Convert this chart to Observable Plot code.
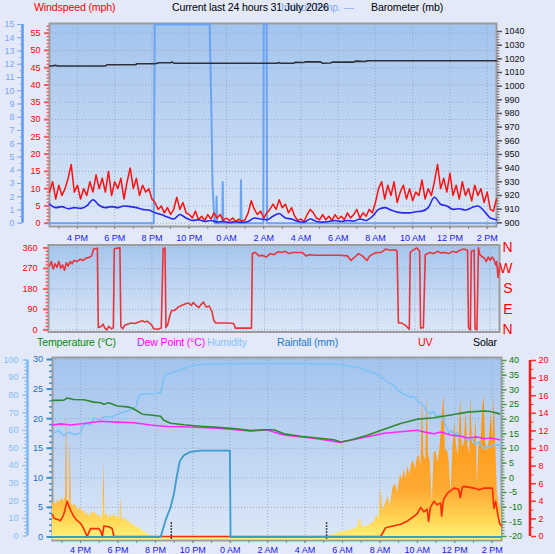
<!DOCTYPE html>
<html><head><meta charset="utf-8">
<script src="https://cdn.jsdelivr.net/npm/d3@7"></script>
<script src="https://cdn.jsdelivr.net/npm/@observablehq/plot@0.6"></script>
<style>
html,body{margin:0;padding:0;background:#E3E9F9;}
#chart{position:relative;width:555px;height:554px;overflow:hidden;background:#E3E9F9;font-family:"Liberation Sans",Arial,sans-serif;}
.lbl{position:absolute;font-size:10.6px;line-height:13px;white-space:nowrap;letter-spacing:-0.15px;}
</style></head><body>
<div id="chart">
<svg width="0" height="0" style="position:absolute"><defs>
<linearGradient id="bgPanel" x1="0" y1="0" x2="0" y2="1"><stop offset="0" stop-color="#A3C4EE"/><stop offset="0.5" stop-color="#BED4F2"/><stop offset="1" stop-color="#DDE8F8"/></linearGradient>
<linearGradient id="bgDir" x1="0" y1="0" x2="0" y2="1"><stop offset="0" stop-color="#A6C6EE"/><stop offset="1" stop-color="#DCE7F7"/></linearGradient>
<linearGradient id="solarGrad" gradientUnits="userSpaceOnUse" x1="0" y1="539" x2="0" y2="400"><stop offset="0" stop-color="#FFF27A"/><stop offset="0.15" stop-color="#FFD553"/><stop offset="0.35" stop-color="#FFAA34"/><stop offset="1" stop-color="#FF9205"/></linearGradient>
</defs></svg>
<div class="lbl" style="left:281px;top:1px;color:#86A8F0">Indoor Temp. ---</div>
<div class="lbl" style="left:34px;top:1px;color:#FF0000">Windspeed (mph)</div>
<div class="lbl" style="left:172px;top:1px;color:#000">Current last 24 hours 31 July 2026</div>
<div class="lbl" style="left:371px;top:1px;color:#000">Barometer (mb)</div>
<div class="lbl" style="left:37px;top:336px;color:#0A8A0A">Temperature (°C)</div>
<div class="lbl" style="left:137px;top:336px;color:#FF00FF">Dew Point (°C)</div>
<div class="lbl" style="left:207px;top:336px;color:#86C2F6">Humidity</div>
<div class="lbl" style="left:277px;top:336px;color:#1E78C8">Rainfall (mm)</div>
<div class="lbl" style="left:418px;top:336px;color:#FF0000">UV</div>
<div class="lbl" style="left:473px;top:336px;color:#000">Solar</div>
</div>
<script>
// ---- time axis ----
const timeDomain = [14.5, 38.5];
const timeTicks = [16, 18, 20, 22, 24, 26, 28, 30, 32, 34, 36, 38];
const timeLabels = ["4 PM","6 PM","8 PM","10 PM","0 AM","2 AM","4 AM","6 AM","8 AM","10 AM","12 PM","2 PM"];
const hourTicks = d3.range(15, 39);

// ---- wind (mph), gust every 10 min from 14:30 ----
const gustStart = 14.5, gustStep = 1 / 6;
const gustV = [9,12,7,11,8,10,13,17,9,11,7,10,8,12,9,14,10,13,9,15,8,12,10,13,7,12,16,10,13,8,11,9,10,7,
  6,4,5,3,4.5,2.5,4,7.5,4,6,3,
  2.5,1.5,3.5,1,2,0.8,2.5,1.2,3,1.5,2.5,0.8,1.5,
  0.7,1.5,0.5,1.2,0.5,1,
  3,6.5,4,2.5,3.5,1.5,3,
  4,5.5,4,6.8,4.5,5.5,3,4.5,
  2,0.8,1.2,0.5,
  2.5,4,3,1.5,
  1,2.5,1,2,0.8,2.5,1.2,2,1,3,1.5,2.5,4,1.5,3,2,4,3,
  6,10,12,7,11,8,12,6,9,11,7,10,6.5,9,8,12.5,7,10,8,12,17,10,13,9,14.5,8,11,7,12,8,10,6.5,11,8,10,6,9,4,3.5,7];
// average wind every 20 min from 14:30
const avgStart = 14.5, avgStep = 1 / 3;
const avgV = [5.5,4.5,4.8,4.2,4.5,4.3,5.0,6.8,5.2,4.5,4.8,4.5,5.0,4.8,4.5,4.0,3.8,3.0,2.5,1.8,
  1.2,2.5,1.5,0.8,1.0,0.5,0.8,0.3,0.5,0.2,0.4,0.2,0.5,1.5,1.2,1.0,2.0,2.8,1.5,1.2,
  0.5,0.3,1.2,0.5,0.3,0.5,0.8,0.5,0.8,0.6,1.2,0.8,2.0,4.0,4.5,3.8,3.2,3.0,3.0,3.3,
  3.5,4.5,7.5,5.5,5.0,4.0,4.2,3.8,4.5,5.0,3.5,1.5,1.0];
// light-blue trace (wind scale)
const indoorT = [14.5,20.1,20.15,23.1,23.12,23.2,23.25,23.36,23.45,23.47,23.5,23.78,23.8,23.83,24.76,24.78,24.81,25.98,26.0,26.16,26.18,38.5];
const indoorV = [0,0,57.5,57.5,52,30,11.5,0,0,7.7,0,0,11.9,0,0,12.4,0,0,57.5,57.5,0,0];
// barometer (mb)
const baroT = [14.5,14.64,14.8,14.95,17.5,17.6,19.12,19.2,20.19,20.37,21.0,21.09,21.18,26.72,26.8,26.9,27.62,27.7,28.16,28.25,29.05,29.15,29.59,29.68,30.84,30.93,31.47,31.55,38.5];
const baroV = [1014.8,1014.8,1015.3,1014.8,1014.8,1015.7,1015.7,1016.4,1016.4,1017.1,1017.1,1017.6,1016.8,1016.8,1017.3,1016.8,1016.8,1017.5,1017.3,1017.8,1017.8,1016.8,1017.0,1017.6,1017.6,1018.3,1018.0,1018.6,1018.6];

// ---- wind direction (deg) ----
const dirT = [14.55,14.65,14.75,14.85,14.95,15.05,15.15,15.25,15.35,15.45,15.55,15.65,15.75,15.85,16.0,16.2,16.35,16.5,16.65,16.8,16.9,17.1,17.15,17.3,17.4,17.5,17.6,17.7,17.85,17.95,18.0,18.1,18.3,18.35,18.45,18.55,18.7,18.9,19.1,19.3,19.5,19.6,19.75,19.9,20.0,20.1,20.3,20.5,20.6,20.7,20.75,20.85,20.95,21.05,21.2,21.4,21.6,21.8,21.95,22.1,22.2,22.35,22.5,22.6,22.75,22.9,23.05,23.2,23.3,23.4,23.5,24.0,24.35,24.45,25.3,25.35,25.5,25.7,25.9,26.1,26.3,26.5,26.7,26.9,27.1,27.3,27.5,27.7,28.0,28.2,28.4,28.7,29.0,29.5,30.0,30.4,30.6,30.8,31.0,31.2,31.45,31.6,31.8,32.0,32.2,32.45,32.7,32.95,33.05,33.12,33.3,33.5,33.7,33.75,33.9,34.1,34.25,34.3,34.45,34.55,34.8,35.0,35.2,35.4,35.6,35.8,36.0,36.2,36.4,36.6,36.8,36.85,36.95,37.0,37.15,37.2,37.3,37.38,37.45,37.6,37.7,37.8,37.9,38.0,38.1,38.2,38.3,38.35,38.42,38.5];
const dirV = [280,300,268,290,275,300,270,285,262,295,280,300,290,305,300,310,305,315,318,325,355,358,10,15,25,8,0,15,5,10,355,358,360,15,5,20,25,30,28,35,40,35,38,28,20,5,3,8,355,360,10,25,60,85,85,100,108,115,118,108,120,108,98,110,122,100,105,80,40,30,30,30,28,8,8,335,340,325,327,320,335,330,343,340,345,335,340,340,340,325,330,328,328,328,328,325,305,320,335,325,305,325,335,340,340,355,350,352,345,30,30,20,3,340,350,360,345,8,10,330,340,335,345,338,340,335,345,340,350,355,350,10,0,345,350,5,0,360,330,320,315,300,320,305,320,310,285,300,230,275];
const compass = [{deg: 360, lab: "N"}, {deg: 270, lab: "W"}, {deg: 180, lab: "S"}, {deg: 90, lab: "E"}, {deg: 0, lab: "N"}];

// ---- temperature / dew point (°C) ----
const tempT = [14.5,15.11,15.28,15.64,16.18,16.71,17.07,17.25,17.51,17.96,18.49,18.76,19.03,19.3,19.74,20.28,20.45,20.81,21.52,22.41,23.31,24.2,25.09,25.8,26.34,26.87,27.76,28.65,29.54,29.9,30.44,31.33,32.22,33.11,34.0,34.89,35.78,36.68,37.57,37.92,38.4];
const tempV = [26.4,26.5,27.2,26.7,26.6,25.8,25.6,25.1,25.6,24.5,24.2,23.8,22.8,21.7,21.4,21.0,19.6,18.6,18.1,17.6,17.2,16.8,16.1,16.4,16.4,15.0,14.2,13.6,13.0,12.2,12.9,14.5,16.6,18.5,20.0,20.5,21.4,22.4,22.8,22.6,21.8];
const dewT = [14.5,14.93,15.46,16.18,17.07,17.96,18.85,19.74,20.63,21.52,23.31,25.09,25.98,26.87,28.65,29.9,31.33,32.22,33.11,34.0,34.54,34.89,35.25,35.78,36.32,36.68,37.21,37.57,37.92,38.4];
const dewV = [18.0,18.4,18.0,18.5,19.3,19.0,18.8,18.0,17.5,17.4,16.9,16.0,16.3,14.6,13.3,12.1,14.0,15.2,15.7,16.2,15.4,15.0,15.6,14.6,14.2,13.6,13.9,13.3,13.6,13.0];
// ---- humidity (%) ----
const humT = [14.5,14.8,15.1,15.4,15.7,16.0,16.1,16.3,16.5,16.7,17.0,17.3,17.6,17.96,18.2,18.5,18.85,19.0,19.05,19.2,19.6,20.0,20.3,20.45,20.63,21.0,21.5,21.9,22.1,22.7,23.3,25,27,29.5,29.9,30.4,30.9,31.3,31.7,32.0,32.2,32.5,32.75,33.1,33.4,33.65,33.8,34.0,34.2,34.35,34.5,34.7,34.85,35.05,35.2,35.4,35.5,35.6,35.7,35.8,36.0,36.1,36.3,36.5,36.7,36.9,37.1,37.3,37.55,37.7,37.9,38.1,38.3,38.5];
const humV = [58,60,57,59,57.5,58.5,62,64,63,67,66,68,67.5,69,70,71,72.5,74,78,80.5,80.8,81,81.5,90,92,93,95,96.5,97.2,97.6,97.8,98,98,97.8,97.3,96.5,95.5,94,92.5,91,89,87,85.5,81.7,80,78.8,79.5,77,75,74,71,69.5,71,67.5,69,66.5,63,61,58,60,57,59,56,57,54,56,52,53.5,49.5,51,50.5,52,51.5,52];
// ---- rainfall (mm) ----
const rainT = [14.5,20.28,20.54,20.81,20.99,21.17,21.31,21.52,21.88,22.41,23.98,24.02,38.5];
const rainV = [0,0,2.8,5.0,7.3,10.7,12.9,13.8,14.4,14.6,14.6,0,0];
const sunMarks = [20.85, 29.15];
// ---- UV index ----
const uvT = [14.5,14.57,14.93,15.1,15.28,15.46,15.64,15.82,16.0,16.17,16.35,16.45,16.53,16.98,17.1,17.16,17.25,17.5,17.69,17.78,32.04,32.31,32.7,33.11,33.5,33.82,34.0,34.18,34.35,34.53,34.6,34.7,34.89,35.05,35.25,35.3,35.4,35.6,35.96,36.2,36.3,36.4,36.5,37.03,37.3,37.57,38.01,38.1,38.19,38.3,38.4,38.5];
const uvV = [2.5,2.1,1.8,2.5,4.0,3.0,2.3,1.8,1.5,0.9,0,0.5,0.9,0.9,0.5,0,1.2,1.1,0.9,0,0,1.0,1.2,1.4,1.8,2.3,2.6,3.3,2.8,3.1,1.7,3.3,4.0,3.6,3.8,2.3,4.2,4.9,5.5,5.4,4.4,5.6,5.7,5.5,5.3,5.5,5.5,3.2,4.0,2.5,1.5,1.2];
// ---- solar (W/m²) ----
const solarT = [14.5,14.6,14.7,14.8,14.9,15.0,15.1,15.2,15.25,15.3,15.4,15.45,15.5,15.6,15.7,15.8,15.9,16.0,16.1,16.2,16.3,16.4,16.5,16.6,16.7,16.8,16.9,17.0,17.1,17.2,17.25,17.3,17.4,17.5,17.6,17.7,17.8,17.9,18.0,18.1,18.15,18.2,18.3,18.4,18.5,18.6,18.7,18.8,18.9,19.0,19.2,19.4,19.6,19.8,19.9,
  29.2,29.5,29.8,30.1,30.4,30.6,30.8,30.95,31.05,31.3,31.5,31.7,31.85,31.95,32.05,32.15,32.3,32.45,32.55,32.7,32.85,32.95,33.1,33.2,33.3,33.4,33.5,33.6,33.7,33.8,33.9,34.0,34.1,34.2,34.27,34.35,34.45,34.53,34.6,34.7,34.8,34.9,35.0,35.1,35.2,35.3,35.43,35.5,35.6,35.7,35.8,35.9,36.0,36.1,36.2,36.32,36.4,36.5,36.6,36.7,36.8,36.85,36.95,37.05,37.15,37.21,37.3,37.4,37.5,37.57,37.65,37.75,37.85,37.95,38.05,38.1,38.2,38.28,38.4,38.5];
const solarV = [190,200,180,210,195,220,200,230,720,210,200,550,190,175,185,160,150,170,140,150,120,135,110,145,130,140,115,125,100,130,420,120,135,100,125,110,130,105,120,100,230,110,95,105,85,90,70,75,60,55,45,30,15,5,0,
  0,12,25,32,40,45,52,108,55,62,70,88,125,95,270,150,190,225,170,280,300,250,355,320,380,330,400,350,415,430,380,445,460,400,780,465,430,790,470,420,200,475,485,420,490,620,800,480,495,430,250,500,650,505,460,780,510,520,700,515,470,790,525,530,660,300,530,535,720,800,540,480,545,700,540,790,500,250,180,150];

// ---- tick values ----
const windTicks = d3.range(0, 56, 5), windMinor = d3.range(0, 58, 1);
const bftTicks = d3.range(0, 16, 1), bftMinor = d3.range(0, 15.01, 0.5);
const baroTicks = d3.range(900, 1041, 10), baroMinor = d3.range(900, 1041, 2);
const dirTicks = [0, 90, 180, 270, 360], dirMinor = d3.range(0, 361, 15);
const humTicks = d3.range(0, 101, 10), humMinor = d3.range(0, 101, 2);
const rainTicks = d3.range(0, 31, 5), rainMinor = d3.range(0, 31, 1);
const tempTicks = d3.range(-20, 41, 5), tempMinor = d3.range(-20, 41, 1);
const uvTicks = d3.range(0, 21, 2), uvMinor = d3.range(0, 21, 1);

// ---- rows ----
const zip = (T, V) => T.map((t, i) => ({t, v: V[i]}));
const gustRows = gustV.map((v, i) => ({t: gustStart + i * gustStep, v}));
const avgRows = avgV.map((v, i) => ({t: avgStart + i * avgStep, v}));
const indoorRows = zip(indoorT, indoorV), baroRows = zip(baroT, baroV), dirRows = zip(dirT, dirV);
const tempRows = zip(tempT, tempV), dewRows = zip(dewT, dewV), humRows = zip(humT, humV);
const rainRows = zip(rainT, rainV), uvRows = zip(uvT, uvV), solarRows = zip(solarT, solarV);

const W = 555, H = 554;
const root = document.getElementById("chart");
const FONT = "Liberation Sans, Arial, sans-serif";
function layer(opts) {
  const svg = Plot.plot({width: W, height: H,
    style: `background: transparent; overflow: visible; font-family: ${FONT}; font-size: 9px;`, ...opts});
  svg.style.position = "absolute"; svg.style.left = "0px"; svg.style.top = "0px"; svg.style.pointerEvents = "none";
  root.appendChild(svg);
  return svg;
}
const num = d => String(d);
const tl = d => timeLabels[timeTicks.indexOf(d)];
const acc = {x: d => d.t, y: d => d.v};
const gridStyle = {stroke: "#8EA4C4", strokeOpacity: 0.85, strokeDasharray: "1,2"};

// ===== Panel 1: wind speed =====
const top1 = {marginLeft: 49, marginRight: 59, marginTop: 23, marginBottom: H - 226};
layer({...top1,
  x: {domain: timeDomain},
  y: {domain: [0, 57.8], range: [222.7, 23]},
  marks: [
    Plot.frame({fill: "url(#bgPanel)", stroke: "#9C9C9C", strokeWidth: 2}),
    Plot.gridX({ticks: timeTicks, ...gridStyle}),
    Plot.gridY({ticks: windTicks, ...gridStyle}),
    Plot.axisY({ticks: windMinor, tickSize: 2.5, tickFormat: () => "", stroke: "#F06060", strokeWidth: 1.5, label: null}),
    Plot.axisY({ticks: windTicks, tickSize: 5, tickPadding: 4, tickFormat: num, fill: "#FF0000", stroke: "#F06060", strokeWidth: 2, fontSize: 9, label: null}),
    Plot.axisX({ticks: hourTicks, tickSize: 3, tickFormat: () => "", stroke: "#8A8A8A", label: null}),
    Plot.axisX({ticks: timeTicks, tickSize: 3, tickPadding: 5, tickFormat: tl, fill: "#1A1AE6", stroke: "#8A8A8A", fontSize: 9, label: null}),
    Plot.line(indoorRows, {...acc, stroke: "#6AA4F2", strokeWidth: 2}),
    Plot.line(gustRows, {...acc, stroke: "#FF1010", strokeWidth: 1.5}),
    Plot.line(avgRows, {...acc, stroke: "#2828EE", strokeWidth: 1.6, curve: "monotone-x"})
  ]
});
// barometer
layer({...top1,
  x: {domain: timeDomain, axis: null},
  y: {domain: [900, 1040], range: [222.3, 31]},
  marks: [
    Plot.axisY({anchor: "right", ticks: baroMinor, tickSize: 2.5, tickFormat: () => "", stroke: "#6E6E6E", label: null}),
    Plot.axisY({anchor: "right", ticks: baroTicks, tickSize: 5, tickPadding: 3, tickFormat: num, fill: "#111", stroke: "#555", strokeWidth: 1.5, fontSize: 9, label: null}),
    Plot.line(baroRows, {...acc, stroke: "#2E2E38", strokeWidth: 1.6})
  ]
});
// left light-blue 0-15 scale
layer({...top1,
  x: {domain: timeDomain, axis: null},
  y: {domain: [0, 15], range: [222.7, 24]},
  marks: [
    Plot.ruleX([timeDomain[0]], {y1: 0, y2: 15, dx: -27, stroke: "#5E98F0", strokeWidth: 2.5}),
    Plot.axisY({ticks: bftMinor, tickSize: 2.5, dx: -27, tickFormat: () => "", stroke: "#7EA8F0", label: null}),
    Plot.axisY({ticks: bftTicks, tickSize: 5, tickPadding: 3, dx: -27, tickFormat: num, fill: "#7EA8F0", stroke: "#7EA8F0", fontSize: 9, label: null})
  ]
});

// ===== Panel 2: wind direction =====
layer({marginLeft: 48, marginRight: 56, marginTop: 244.5, marginBottom: H - 331.5,
  x: {domain: timeDomain, axis: null},
  y: {domain: [0, 360], range: [329.4, 247.4]},
  marks: [
    Plot.frame({fill: "url(#bgDir)", stroke: "#9C9C9C", strokeWidth: 2}),
    Plot.gridX({ticks: timeTicks, ...gridStyle}),
    Plot.gridY({ticks: dirTicks, ...gridStyle}),
    Plot.axisY({ticks: dirMinor, tickSize: 2.5, tickFormat: () => "", stroke: "#F06060", strokeWidth: 1.5, label: null}),
    Plot.axisY({ticks: dirTicks, tickSize: 5, tickPadding: 6, tickFormat: num, fill: "#FF0000", stroke: "#F06060", strokeWidth: 2, fontSize: 9, label: null}),
    Plot.line(dirRows, {...acc, stroke: "#E8343A", strokeWidth: 1.6}),
    Plot.text(compass, {y: d => d.deg, text: d => d.lab, frameAnchor: "right", dx: 13, fill: "#FF0000", fontSize: 14})
  ]
});

// ===== Panel 3: temperature, humidity, rain, UV, solar =====
const bot = {marginLeft: 52, marginRight: 54, marginTop: 357, marginBottom: H - 540};
// base with rain scale
layer({...bot,
  x: {domain: timeDomain},
  y: {domain: [0, 30], range: [536.5, 359]},
  marks: [
    Plot.frame({fill: "url(#bgPanel)", stroke: "#9C9C9C", strokeWidth: 2}),
    Plot.gridX({ticks: timeTicks, ...gridStyle}),
    Plot.gridY({ticks: rainTicks, ...gridStyle}),
    Plot.axisY({ticks: rainMinor, tickSize: 3, tickFormat: () => "", stroke: "#3A90C8", strokeWidth: 1.5, label: null}),
    Plot.axisY({ticks: rainTicks, tickSize: 5.5, tickPadding: 4, tickFormat: num, fill: "#1E6FBE", stroke: "#3A90C8", strokeWidth: 2, fontSize: 9, label: null}),
    Plot.axisX({ticks: hourTicks, tickSize: 3, tickFormat: () => "", stroke: "#8A8A8A", label: null}),
    Plot.axisX({ticks: timeTicks, tickSize: 3, tickPadding: 3, tickFormat: tl, fill: "#1A1AE6", stroke: "#8A8A8A", fontSize: 9, label: null})
  ]
});
// solar
layer({...bot,
  x: {domain: timeDomain, axis: null},
  y: {domain: [0, 1000], range: [536.5, 359], axis: null},
  marks: [
    Plot.areaY(solarRows, {x: d => d.t, y1: -16, y2: d => d.v, fill: "url(#solarGrad)"})
  ]
});
// UV
layer({...bot,
  x: {domain: timeDomain, axis: null},
  y: {domain: [0, 20], range: [536, 360]},
  marks: [
    Plot.ruleX([timeDomain[1]], {y1: 0, y2: 20, dx: 28.5, stroke: "#FF1A1A", strokeWidth: 2.5}),
    Plot.axisY({anchor: "right", ticks: uvMinor, tickSize: 2.5, dx: 29, tickFormat: () => "", stroke: "#FF3030", label: null}),
    Plot.axisY({anchor: "right", ticks: uvTicks, tickSize: 5, tickPadding: 3, dx: 29, tickFormat: num, fill: "#FF0000", stroke: "#FF3030", strokeWidth: 1.5, fontSize: 9, label: null}),
    Plot.line(uvRows, {...acc, stroke: "#FF2A00", strokeWidth: 1.6})
  ]
});
// rain line and sun markers
layer({...bot,
  x: {domain: timeDomain, axis: null},
  y: {domain: [0, 30], range: [536.5, 359], axis: null},
  marks: [
    Plot.ruleX(sunMarks, {y1: -0.4, y2: 2.5, stroke: "#111", strokeWidth: 1.5, strokeDasharray: "1.5,1.5"}),
    Plot.line(rainRows, {...acc, stroke: "#3E9CCC", strokeWidth: 1.8})
  ]
});
// humidity
layer({...bot,
  x: {domain: timeDomain, axis: null},
  y: {domain: [0, 100], range: [535.5, 359.5]},
  marks: [
    Plot.ruleX([timeDomain[0]], {y1: 0, y2: 100, dx: -25, stroke: "#7DB8F0", strokeWidth: 2.5}),
    Plot.axisY({ticks: humMinor, tickSize: 2.5, dx: -25.5, tickFormat: () => "", stroke: "#86BCF0", label: null}),
    Plot.axisY({ticks: humTicks, tickSize: 4.5, tickPadding: 4, dx: -25.5, tickFormat: num, fill: "#86BCF0", stroke: "#86BCF0", fontSize: 9, label: null}),
    Plot.line(humRows, {...acc, stroke: "#7EC2F6", strokeWidth: 1.6})
  ]
});
// temperature and dew point
layer({...bot,
  x: {domain: timeDomain, axis: null},
  y: {domain: [-20, 40], range: [536, 360]},
  marks: [
    Plot.axisY({anchor: "right", ticks: tempMinor, tickSize: 2.5, tickFormat: () => "", stroke: "#4A9A4A", label: null}),
    Plot.axisY({anchor: "right", ticks: tempTicks, tickSize: 4.5, tickPadding: 3, tickFormat: num, fill: "#0A7A0A", stroke: "#4A9A4A", strokeWidth: 1.5, fontSize: 9, label: null}),
    Plot.line(dewRows, {...acc, stroke: "#FF28FF", strokeWidth: 1.6}),
    Plot.line(tempRows, {...acc, stroke: "#2E8A30", strokeWidth: 1.6})
  ]
});
</script>
</body></html>
